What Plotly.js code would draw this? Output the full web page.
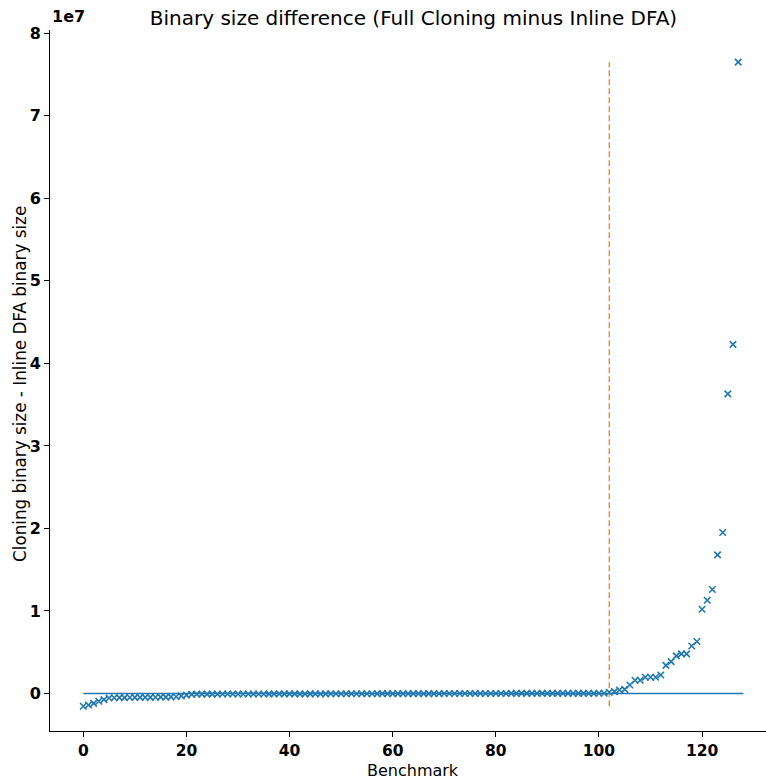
<!DOCTYPE html>
<html>
<head>
<meta charset="utf-8">
<script src="https://cdn.plot.ly/plotly-3.0.1.min.js"></script>
<style>html,body{margin:0;padding:0;background:#fff;}#chart{width:766px;height:781px;}</style>
</head>
<body>
<div id="chart"></div>
<script>
// Size differences (bytes) per benchmark, sorted ascending
const headValues = [-1550000, -1400000, -1200000, -950000, -750000,
  -550000, -520000, -500000, -500000, -490000, -480000, -480000, -470000, -470000, -460000, -450000, -440000, -420000, -400000,
  -300000, -200000, -120000];
const middleValues = [
  -80000, -78000, -76000, -75000, -74000, -72000, -70000, -69000, -68000, -66000,
  -65000, -63000, -62000, -60000, -59000, -57000, -56000, -55000, -53000, -52000,
  -50000, -49000, -47000, -46000, -45000, -43000, -42000, -40000, -39000, -38000,
  -36000, -35000, -33000, -32000, -31000, -29000, -28000, -26000, -25000, -24000,
  -22000, -21000, -20000, -18000, -17000, -15000, -14000, -13000, -11000, -10000,
  -9000, -8000, -7000, -6000, -5000, -4000, -3000, -2000, -1000, 0,
  1000, 2000, 3000, 4000, 5000, 6000, 7000, 8000, 9000, 10000,
  11000, 12000, 13000, 14000, 15000, 16000, 17000, 18000, 19000, 20000];
const tailValues = [150000, 220000, 420000, 500000, 1030000, 1600000, 1600000, 1960000, 1960000, 1960000,
  2240000, 3400000, 3850000, 4550000, 4800000, 4800000, 5750000, 6300000,
  10200000, 11300000, 12600000, 16800000, 19500000, 36300000, 42300000, 76500000];
const values = headValues.concat(middleValues, tailValues);
const benchmarks = values.map((v, i) => i);
const splitIndex = 102;
const xTicks = [0, 20, 40, 60, 80, 100, 120];
const yTicks = [0, 1e7, 2e7, 3e7, 4e7, 5e7, 6e7, 7e7, 8e7];
const yTickText = ['0', '1', '2', '3', '4', '5', '6', '7', '8'];

const blue = '#1f77b4', orange = '#ff7f0e';
const font = 'DejaVu Sans, sans-serif';
const yMin = Math.min(...values), yMax = Math.max(...values);

const traces = [
  {x: [0, values.length], y: [0, 0], mode: 'lines', line: {color: blue, width: 1.5}, hoverinfo: 'skip'},
  {x: [splitIndex, splitIndex], y: [yMin, yMax], mode: 'lines', line: {color: orange, width: 1.3, dash: '6px,3px'}, hoverinfo: 'skip'},
  {x: benchmarks, y: values, mode: 'markers',
   marker: {symbol: 'x-thin', size: 6.5, color: blue, line: {color: blue, width: 1.6}}}
];

const plotW = 716, plotH = 701;
const layout = {
  width: 766, height: 781,
  margin: {l: 50, r: 0, t: 30, b: 50},
  paper_bgcolor: '#fff', plot_bgcolor: '#fff',
  showlegend: false,
  font: {family: font, color: '#000'},
  title: {text: 'Binary size difference (Full Cloning minus Inline DFA)', font: {family: font, size: 20, color: '#000'},
          xref: 'container', yref: 'container', x: 413.5/766, xanchor: 'center', y: 1 - 18/781, yanchor: 'middle'},
  xaxis: {range: [-6.46, 132.4], tickvals: xTicks, ticks: 'outside', ticklen: 5, tickwidth: 1, tickcolor: '#000',
          showline: true, linecolor: '#000', linewidth: 1, showgrid: false, zeroline: false,
          tickfont: {family: font, size: 15.5, weight: 'bold', color: '#000'}},
  yaxis: {range: [-4550000, 80400000], tickvals: yTicks, ticktext: yTickText, ticks: 'outside', ticklen: 5, tickwidth: 1, tickcolor: '#000',
          showline: true, linecolor: '#000', linewidth: 1, showgrid: false, zeroline: false,
          tickfont: {family: font, size: 16, weight: 'bold', color: '#000'}},
  annotations: [
    {text: '1e7', xref: 'paper', yref: 'paper', x: 0, y: 1, xanchor: 'left', yanchor: 'bottom', yshift: 2,
     showarrow: false, font: {family: font, size: 16, weight: 'bold', color: '#000'}},
    {text: 'Benchmark', xref: 'paper', yref: 'paper', x: (413 - 50) / plotW, y: -(781 - 731) / plotH,
     xanchor: 'center', yanchor: 'bottom', yshift: 0, borderpad: 0, showarrow: false, font: {family: font, size: 16, color: '#000'}},
    {text: 'Cloning binary size - Inline DFA binary size', xref: 'paper', yref: 'paper', x: (20 - 50) / plotW, y: (731 - 384) / plotH,
     xanchor: 'center', yanchor: 'middle', textangle: -90, showarrow: false, font: {family: font, size: 16.8, color: '#000'}}
  ]
};

Plotly.newPlot('chart', traces, layout, {displayModeBar: false, staticPlot: true});
</script>
</body>
</html>
